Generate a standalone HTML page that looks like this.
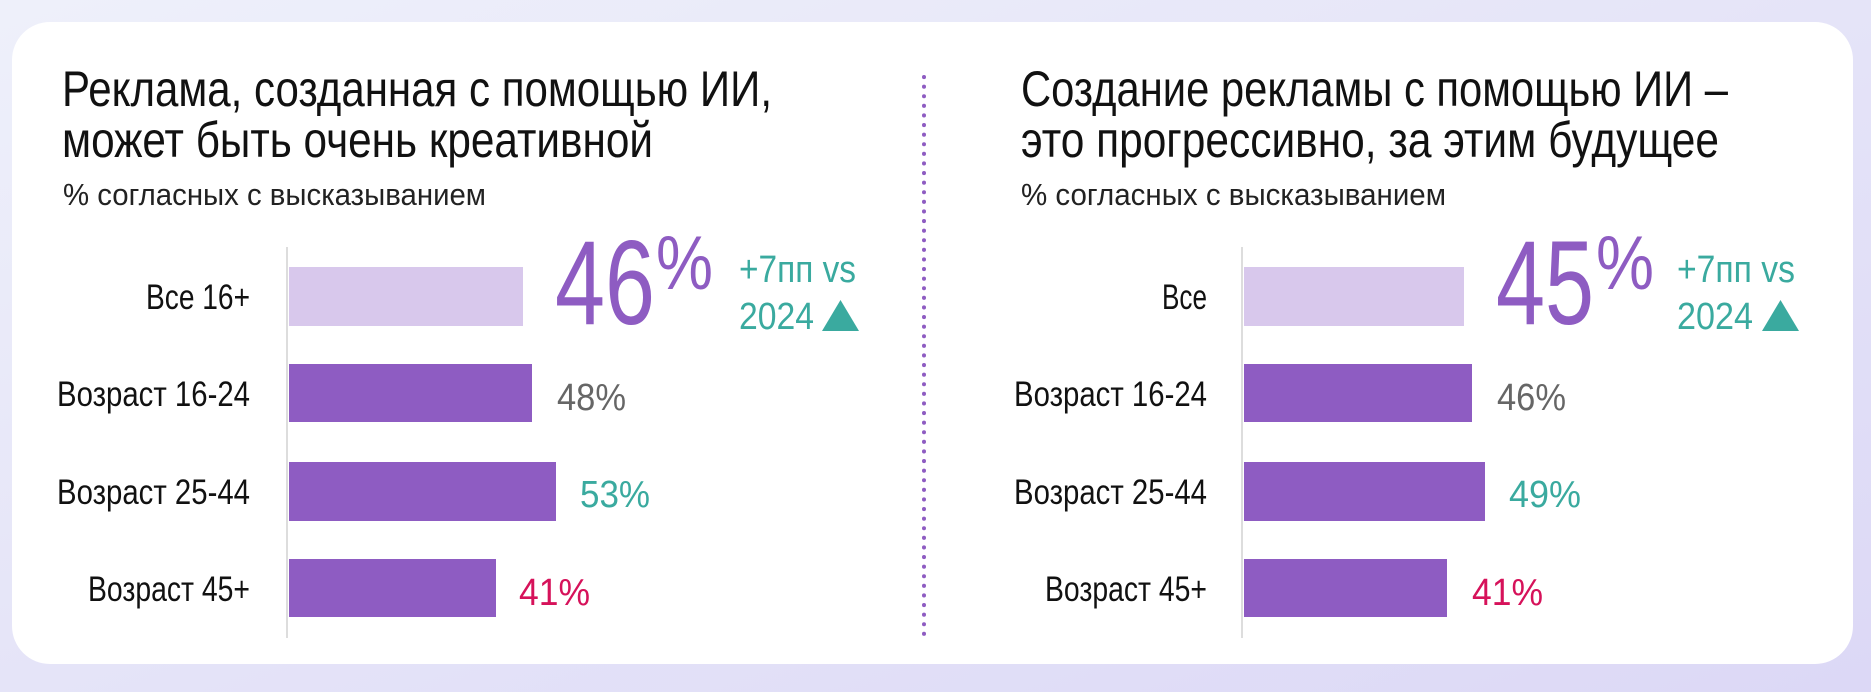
<!DOCTYPE html>
<html><head><meta charset="utf-8"><style>
html,body{margin:0;padding:0;width:1871px;height:692px;overflow:hidden;background:linear-gradient(180deg,#eef0fa 0%,#ebe8f8 70%,#e4dcf5 100%);}
svg{display:block}
text{font-family:"Liberation Sans Narrow","Liberation Sans",sans-serif;}
</style></head><body>
<svg width="1871" height="692" viewBox="0 0 1871 692" xmlns="http://www.w3.org/2000/svg">
<defs><linearGradient id="bg" x1="0" y1="0" x2="1" y2="1"><stop offset="0" stop-color="#eef0fa"/><stop offset="1" stop-color="#dcd8f6"/></linearGradient></defs>
<rect x="0" y="0" width="1871" height="692" fill="url(#bg)"/>
<rect x="12" y="22" width="1841" height="642" rx="38" fill="#fff"/>
<line x1="924" y1="77" x2="924" y2="640" stroke="#8e5cc2" stroke-width="4" stroke-linecap="round" stroke-dasharray="0.1 9.5"/>

<g fill="#111">
<text x="62" y="106" font-size="50" textLength="710" lengthAdjust="spacingAndGlyphs">Реклама, созданная с помощью ИИ,</text>
<text x="62" y="157" font-size="50" textLength="591" lengthAdjust="spacingAndGlyphs">может быть очень креативной</text>
<text x="63" y="205" font-size="31" textLength="423" lengthAdjust="spacingAndGlyphs" fill="#222">% согласных с высказыванием</text>
<text x="1021" y="106" font-size="50" textLength="707" lengthAdjust="spacingAndGlyphs">Создание рекламы с помощью ИИ –</text>
<text x="1021" y="157" font-size="50" textLength="698" lengthAdjust="spacingAndGlyphs">это прогрессивно, за этим будущее</text>
<text x="1021" y="205" font-size="31" textLength="425" lengthAdjust="spacingAndGlyphs" fill="#222">% согласных с высказыванием</text>
</g>

<!-- left chart -->
<line x1="287" y1="247" x2="287" y2="638" stroke="#ddd" stroke-width="2"/>
<rect x="289" y="267" width="234" height="59" fill="#d8c8ec"/>
<rect x="289" y="364" width="243" height="58" fill="#8e5cc2"/>
<rect x="289" y="462" width="267" height="59" fill="#8e5cc2"/>
<rect x="289" y="559" width="207" height="58" fill="#8e5cc2"/>
<g fill="#111" font-size="35">
<text x="146" y="309" textLength="104" lengthAdjust="spacingAndGlyphs">Все 16+</text>
<text x="57" y="406" textLength="193" lengthAdjust="spacingAndGlyphs">Возраст 16-24</text>
<text x="57" y="504" textLength="193" lengthAdjust="spacingAndGlyphs">Возраст 25-44</text>
<text x="88" y="601" textLength="162" lengthAdjust="spacingAndGlyphs">Возраст 45+</text>
</g>
<text x="555" y="324" font-size="120" fill="#8e5cc2" textLength="100" lengthAdjust="spacingAndGlyphs">46</text>
<text x="656" y="289" font-size="76" fill="#8e5cc2" textLength="57" lengthAdjust="spacingAndGlyphs">%</text>
<text x="739" y="282" font-size="38" fill="#3aaa9f" textLength="117" lengthAdjust="spacingAndGlyphs">+7пп vs</text>
<text x="739" y="329" font-size="38" fill="#3aaa9f" textLength="75" lengthAdjust="spacingAndGlyphs">2024</text>
<polygon points="822,331 859,331 840.5,300" fill="#3aaa9f"/>
<text x="557" y="410" font-size="38" fill="#666" textLength="69" lengthAdjust="spacingAndGlyphs">48%</text>
<text x="580" y="507" font-size="38" fill="#3aaa9f" textLength="70" lengthAdjust="spacingAndGlyphs">53%</text>
<text x="519" y="605" font-size="38" fill="#d6125a" textLength="71" lengthAdjust="spacingAndGlyphs">41%</text>

<!-- right chart -->
<line x1="1242" y1="247" x2="1242" y2="638" stroke="#ddd" stroke-width="2"/>
<rect x="1244" y="267" width="220" height="59" fill="#d8c8ec"/>
<rect x="1244" y="364" width="228" height="58" fill="#8e5cc2"/>
<rect x="1244" y="462" width="241" height="59" fill="#8e5cc2"/>
<rect x="1244" y="559" width="203" height="58" fill="#8e5cc2"/>
<g fill="#111" font-size="35">
<text x="1162" y="309" textLength="45" lengthAdjust="spacingAndGlyphs">Все</text>
<text x="1014" y="406" textLength="193" lengthAdjust="spacingAndGlyphs">Возраст 16-24</text>
<text x="1014" y="504" textLength="193" lengthAdjust="spacingAndGlyphs">Возраст 25-44</text>
<text x="1045" y="601" textLength="162" lengthAdjust="spacingAndGlyphs">Возраст 45+</text>
</g>
<text x="1496" y="324" font-size="120" fill="#8e5cc2" textLength="98" lengthAdjust="spacingAndGlyphs">45</text>
<text x="1596" y="289" font-size="76" fill="#8e5cc2" textLength="58" lengthAdjust="spacingAndGlyphs">%</text>
<text x="1677" y="282" font-size="38" fill="#3aaa9f" textLength="118" lengthAdjust="spacingAndGlyphs">+7пп vs</text>
<text x="1677" y="329" font-size="38" fill="#3aaa9f" textLength="76" lengthAdjust="spacingAndGlyphs">2024</text>
<polygon points="1762,331 1799,331 1780.5,300" fill="#3aaa9f"/>
<text x="1497" y="410" font-size="38" fill="#666" textLength="69" lengthAdjust="spacingAndGlyphs">46%</text>
<text x="1509" y="507" font-size="38" fill="#3aaa9f" textLength="72" lengthAdjust="spacingAndGlyphs">49%</text>
<text x="1472" y="605" font-size="38" fill="#d6125a" textLength="71" lengthAdjust="spacingAndGlyphs">41%</text>
</svg>
</body></html>
